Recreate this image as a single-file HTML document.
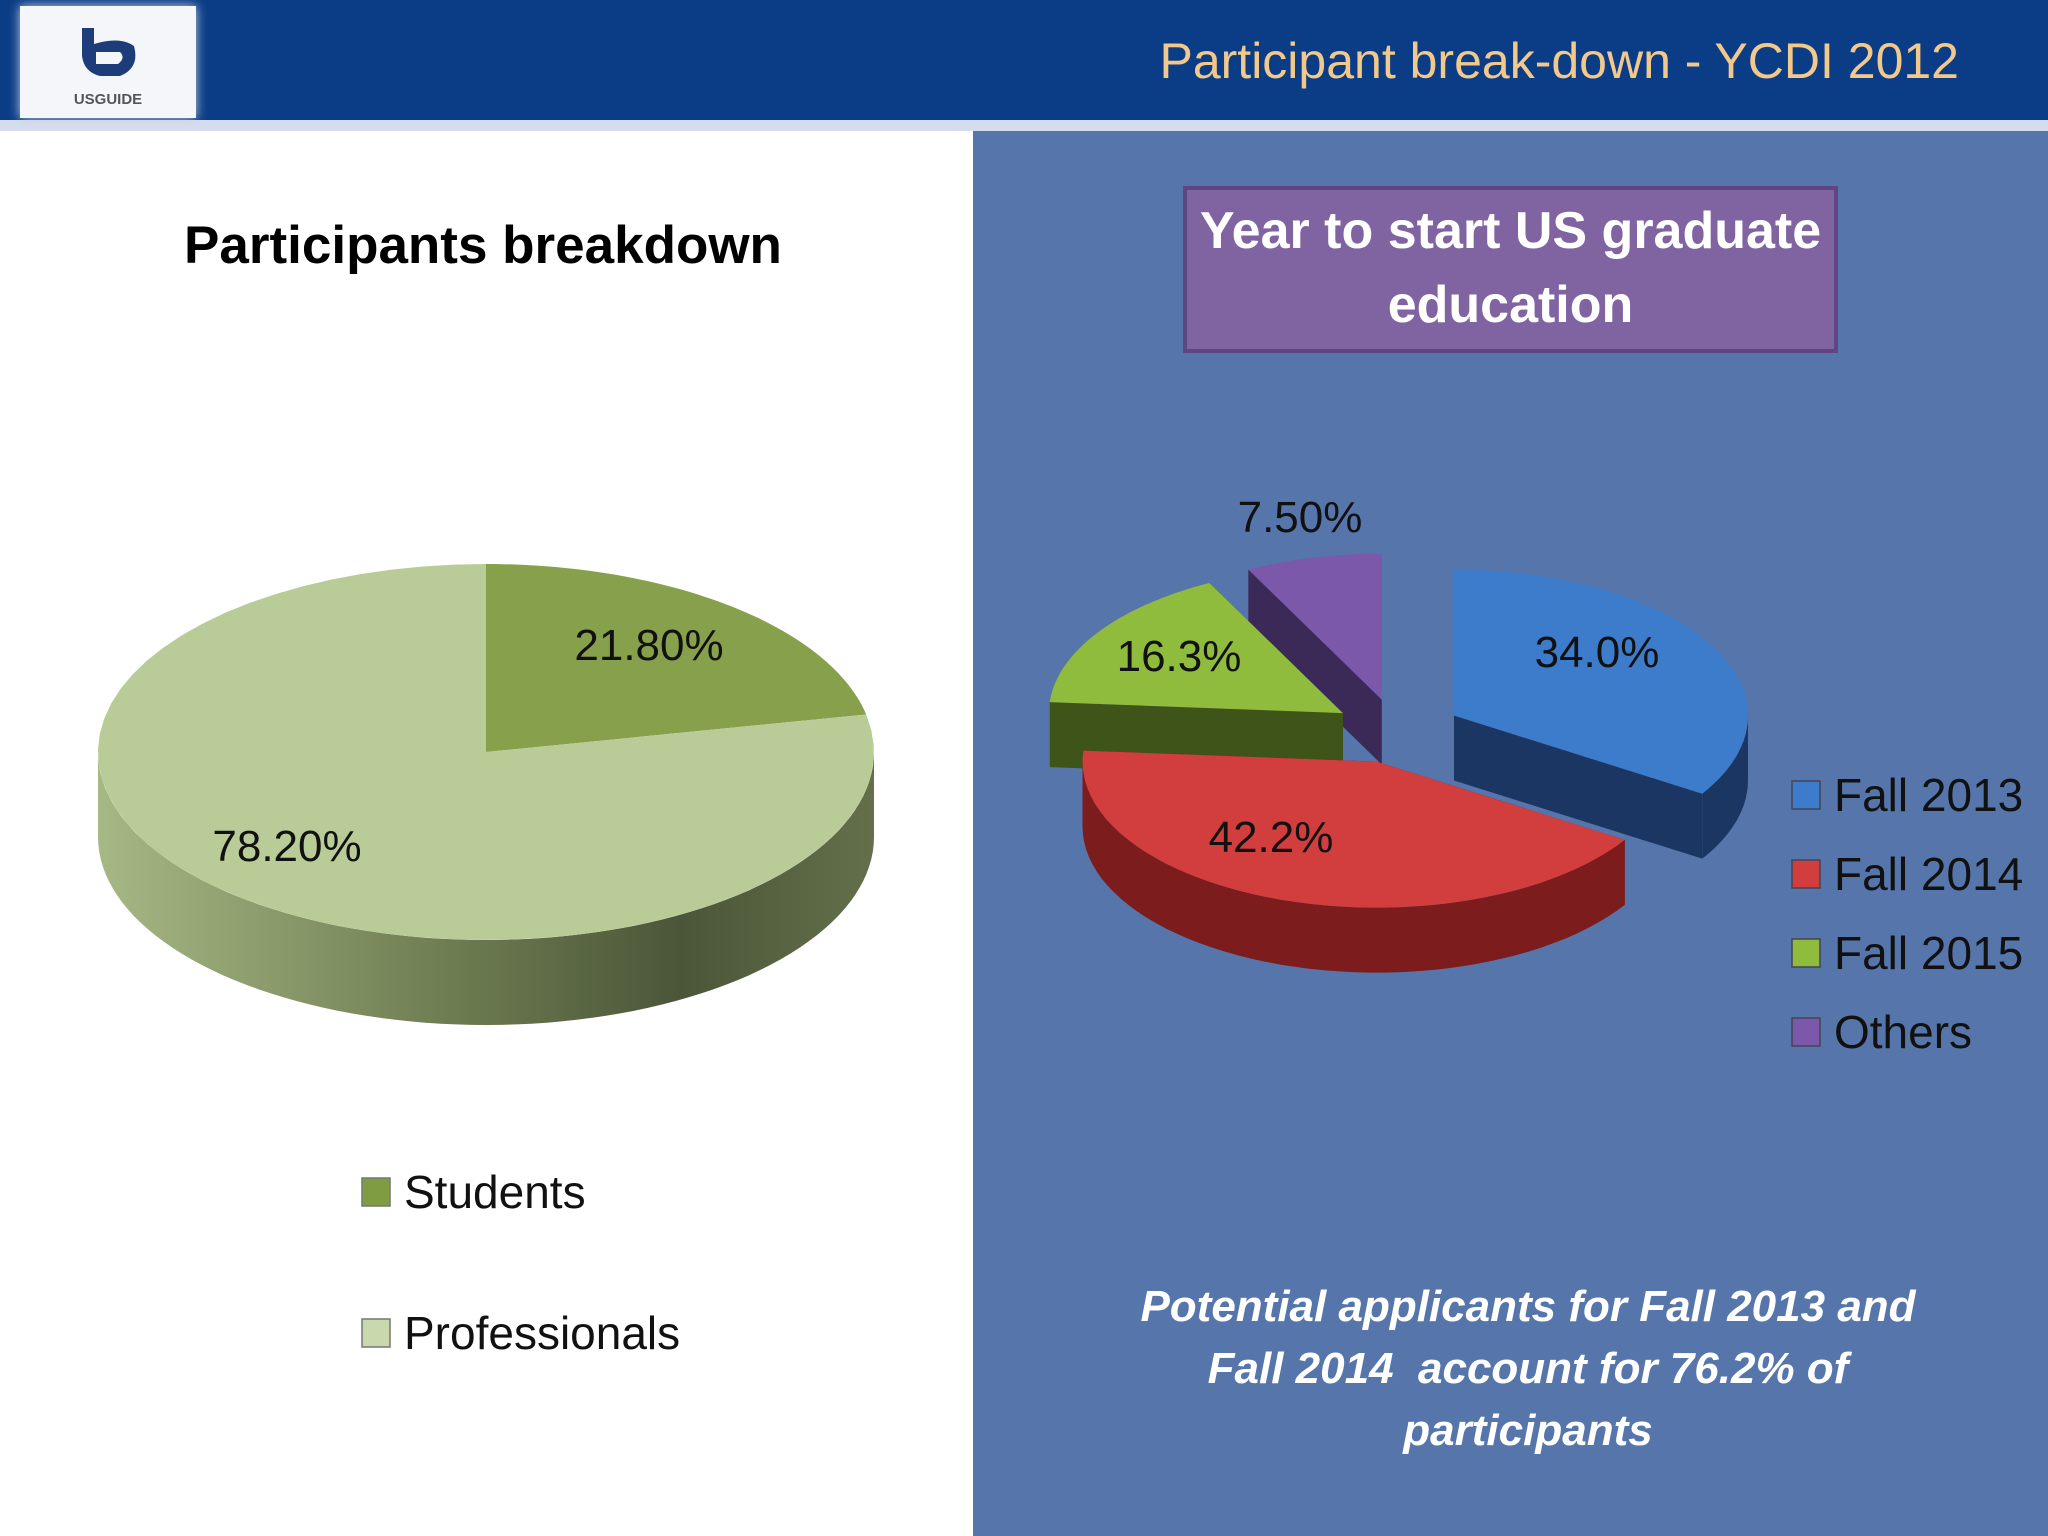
<!DOCTYPE html>
<html><head><meta charset="utf-8"><style>
body{margin:0;width:2048px;height:1536px;overflow:hidden;background:#fff;font-family:"Liberation Sans",sans-serif;position:relative}
.abs{position:absolute}
</style></head><body>
<div class="abs" style="left:0;top:0;width:2048px;height:120px;background:#0b3d87"></div>
<div class="abs" style="left:0;top:120px;width:2048px;height:11px;background:#d5dced"></div>
<div class="abs" style="left:20px;top:6px;width:176px;height:112px;background:#f4f6fa;box-shadow:0 0 10px #c8d0e0">
 <svg width="176" height="112"><path d="M62 22 L74 22 L74 38 Q100 30 114 40 Q120 62 100 70 L80 70 Q64 66 62 50 Z M76 46 L76 58 L98 58 Q106 52 100 46 Z" fill="#1c3d7a"/>
 <text x="88" y="98" font-size="15" fill="#555" text-anchor="middle" font-family="Liberation Sans" font-weight="bold">USGUIDE</text></svg>
</div>
<div class="abs" style="right:89px;top:32px;font-size:50px;color:#f3c98b;white-space:nowrap">Participant break-down - YCDI 2012</div>
<div class="abs" style="left:973px;top:131px;width:1075px;height:1405px;background:#5676ab"></div>

<div class="abs" style="left:0;width:966px;top:215px;text-align:center;font-size:53px;font-weight:bold;color:#000">Participants breakdown</div>

<div class="abs" style="left:1183px;top:186px;width:647px;height:155px;background:#8064a2;border:4px solid #5d4682;color:#fff;font-weight:bold;font-size:52px;text-align:center;line-height:74px;padding-top:4px;box-sizing:content-box">Year to start US graduate education</div>

<svg class="abs" style="left:0;top:0" width="2048" height="1536" id="chart">
<defs>
<linearGradient id="sideL" x1="0" x2="1"><stop offset="0" stop-color="#a6b884"/><stop offset="0.45" stop-color="#6f7d52"/><stop offset="0.75" stop-color="#4b5638"/><stop offset="1" stop-color="#646f4a"/></linearGradient>
</defs>
</svg>

<div class="abs" style="left:1118px;width:820px;top:1276px;text-align:center;color:#fff;font-style:italic;font-weight:bold;font-size:44px;line-height:62px">Potential applicants for Fall 2013 and Fall 2014&nbsp; account for 76.2% of participants</div>

<script>
const leftCats=["Students","Professionals"];
const leftVals=[21.8,78.2];
const leftLabels=["21.80%","78.20%"];
const rightCats=["Fall 2013","Fall 2014","Fall 2015","Others"];
const rightVals=[34.0,42.2,16.3,7.5];
const rightLabels=["34.0%","42.2%","16.3%","7.50%"];

const NS="http://www.w3.org/2000/svg";
const svg=document.getElementById('chart');
function mk(tag,attrs){const e=document.createElementNS(NS,tag);for(const k in attrs)e.setAttribute(k,attrs[k]);svg.appendChild(e);return e;}
function pt(cx,cy,rx,ry,a){const r=a*Math.PI/180;return [cx+rx*Math.sin(r),cy-ry*Math.cos(r)];}
function arcPath(cx,cy,rx,ry,a0,a1,n){let d="";for(let i=0;i<=n;i++){const p=pt(cx,cy,rx,ry,a0+(a1-a0)*i/n);d+=(i?"L":"")+p[0].toFixed(1)+" "+p[1].toFixed(1)+" ";}return d;}

// LEFT PIE
(function(){
 const cx=486,cy=752,rx=388,ry=188,dep=85;
 const total=leftVals.reduce((a,b)=>a+b,0);
 const tops=["#87a04b","#b9cc98"];
 let d="M"+arcPath(cx,cy+dep,rx,ry,270,90,80)+" L"+(cx+rx)+" "+cy+" "+arcPath(cx,cy,rx,ry,90,270,80).replace(/^/,"L")+"Z";
 const side=mk('path',{d:d,fill:'url(#sideL)'});
 
 
 let a=0;
 leftVals.forEach((v,i)=>{
  const a1=a+v/total*360;
  const p=mk('path',{d:"M"+cx+" "+cy+" L"+arcPath(cx,cy,rx,ry,a,a1,60)+"Z",fill:tops[i]});
  
  
  a=a1;
 });
 const lp=[[649,660],[287,861]];
 leftLabels.forEach((t,i)=>{const e=mk('text',{x:lp[i][0],y:lp[i][1],'font-size':44,'text-anchor':'middle',fill:'#111','font-family':'Liberation Sans'});e.textContent=t;
  
  });
 const ly=[1192,1333],lc=["#7f9d40","#c9d9ad"];
 leftCats.forEach((c,i)=>{
  const r=mk('rect',{x:362,y:ly[i]-14,width:28,height:28,fill:lc[i],stroke:'#777','stroke-width':1.5});
  
  
  const t=mk('text',{x:404,y:ly[i]+16,'font-size':46,fill:'#111','font-family':'Liberation Sans'});t.textContent=c;
  
  
 });
})();

// RIGHT PIE
(function(){
 const cx=1397,cy=731,rx=294,ry=146,dep=65,ex=65;
 const total=rightVals.reduce((a,b)=>a+b,0);
 const tops=["#3d7bcb","#d23d3d","#8fbc3c","#7c58aa"];
 const sides=["#1b3662","#7d1c1c","#3f5419","#3b2a57"];
 let a=0;const sl=[];
 rightVals.forEach((v,i)=>{const a1=a+v/total*360;sl.push([a,a1]);a=a1;});
 const order=[3,0,2,1];
 order.forEach(i=>{
  const [a0,a1]=sl[i];const m=(a0+a1)/2*Math.PI/180;
  const ox=cx+ex*Math.sin(m),oy=cy-ex*Math.cos(m)*ry/rx;
  [a0,a1].forEach(ang=>{const p=pt(ox,oy,rx,ry,ang);
   const w=mk('path',{d:`M${ox} ${oy} L${p[0]} ${p[1]} L${p[0]} ${p[1]+dep} L${ox} ${oy+dep}Z`,fill:sides[i]});
   
   });
  const s=Math.max(a0,90),e=Math.min(a1,270);
  if(e>s){
   const d="M"+arcPath(ox,oy,rx,ry,s,e,50)+" L"+arcPath(ox,oy+dep,rx,ry,e,s,50)+"Z";
   const c=mk('path',{d:d,fill:sides[i]});
   
   
  }
  const t=mk('path',{d:"M"+ox+" "+oy+" L"+arcPath(ox,oy,rx,ry,a0,a1,50)+"Z",fill:tops[i]});
  
  
 });
 const lp=[[1597,667],[1271,852],[1179,671],[1300,532]];
 rightLabels.forEach((t,i)=>{const e=mk('text',{x:lp[i][0],y:lp[i][1],'font-size':44,'text-anchor':'middle',fill:'#111','font-family':'Liberation Sans'});e.textContent=t;
  
  });
 const ly=[795,874,953,1032];
 rightCats.forEach((c,i)=>{
  const r=mk('rect',{x:1792,y:ly[i]-14,width:28,height:28,fill:tops[i],stroke:'#445','stroke-width':1.5});
  
  
  const t=mk('text',{x:1834,y:ly[i]+16,'font-size':46,fill:'#111','font-family':'Liberation Sans'});t.textContent=c;
  
  
 });
})();
</script>
</body></html>
